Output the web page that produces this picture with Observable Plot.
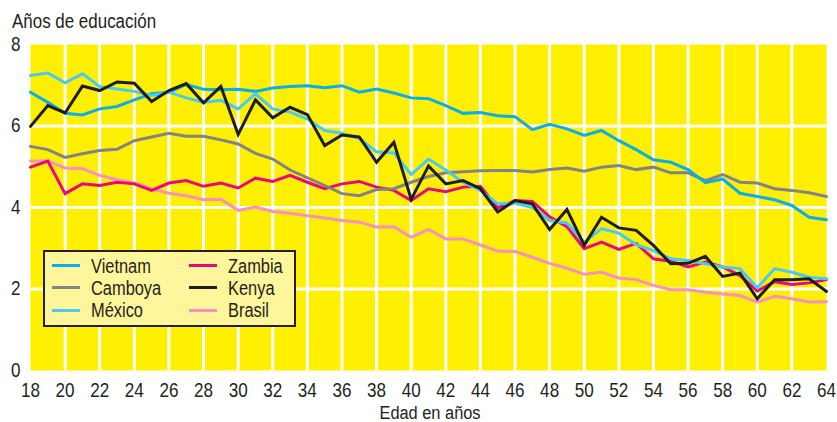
<!DOCTYPE html>
<html><head><meta charset="utf-8">
<script src="https://cdn.jsdelivr.net/npm/d3@7"></script>
<script src="https://cdn.jsdelivr.net/npm/@observablehq/plot@0.6"></script>
<style>
body{margin:0;background:#fff;}
#wrap{position:relative;width:837px;height:422px;font-family:"Liberation Sans",Arial,sans-serif;color:#231f20;}
#title{position:absolute;left:12px;top:11.4px;font-size:20px;line-height:20px;white-space:nowrap;transform:scaleX(0.847);transform-origin:0 0;}
#xlabel{position:absolute;left:279.5px;width:300px;top:403.8px;text-align:center;font-size:18px;line-height:18px;white-space:nowrap;transform:scaleX(0.91);transform-origin:50% 0;}
#legend{position:absolute;left:43px;top:250px;width:249px;height:73px;background:#fff59b;border:2px solid #231f20;}
.sw{position:absolute;width:28px;height:3px;}
.lt{position:absolute;font-size:20px;line-height:20px;white-space:nowrap;transform:scaleX(0.82);transform-origin:0 0;}
#chart{position:absolute;left:0;top:0;}
</style></head>
<body>
<div id="wrap">
  <div id="chart"></div>
  <div id="title">Años de educación</div>
  <div id="xlabel">Edad en años</div>
  <div id="legend"></div>
</div>
<script>
const ages = [18,19,20,21,22,23,24,25,26,27,28,29,30,31,32,33,34,35,36,37,38,39,40,41,42,43,44,45,46,47,48,49,50,51,52,53,54,55,56,57,58,59,60,61,62,63,64];
const vietnam = [6.83,6.58,6.31,6.27,6.42,6.48,6.64,6.79,6.83,7.02,6.9,6.89,6.9,6.85,6.93,6.97,6.99,6.94,6.99,6.83,6.91,6.81,6.69,6.67,6.5,6.31,6.33,6.25,6.23,5.91,6.04,5.93,5.77,5.89,5.64,5.42,5.17,5.11,4.93,4.61,4.7,4.35,4.27,4.19,4.05,3.76,3.7];
const camboya = [5.5,5.42,5.23,5.32,5.4,5.43,5.64,5.73,5.82,5.75,5.75,5.66,5.56,5.33,5.19,4.92,4.73,4.54,4.34,4.29,4.44,4.46,4.62,4.76,4.85,4.88,4.9,4.91,4.91,4.87,4.93,4.97,4.89,4.99,5.03,4.93,4.99,4.85,4.85,4.66,4.81,4.62,4.6,4.46,4.42,4.36,4.27];
const mexico = [7.24,7.3,7.06,7.28,6.97,6.91,6.85,6.75,6.83,6.69,6.58,6.63,6.42,6.79,6.42,6.34,6.17,5.89,5.82,5.69,5.37,5.34,4.81,5.19,4.92,4.62,4.42,4.09,4.11,4.0,3.68,3.62,3.15,3.48,3.37,3.09,2.94,2.74,2.7,2.62,2.54,2.5,2.03,2.5,2.41,2.29,2.25];
const zambia = [4.99,5.14,4.34,4.58,4.54,4.62,4.58,4.42,4.6,4.66,4.52,4.6,4.48,4.72,4.64,4.79,4.62,4.46,4.58,4.64,4.5,4.42,4.17,4.46,4.39,4.5,4.52,3.99,4.17,4.15,3.77,3.53,2.99,3.15,2.97,3.12,2.74,2.68,2.54,2.66,2.54,2.33,1.95,2.18,2.11,2.15,2.23];
const kenya = [5.99,6.5,6.32,6.98,6.87,7.08,7.05,6.6,6.87,7.04,6.57,6.97,5.79,6.64,6.2,6.46,6.28,5.52,5.78,5.73,5.11,5.6,4.2,5.02,4.58,4.66,4.46,3.89,4.17,4.09,3.46,3.95,3.07,3.76,3.5,3.44,3.07,2.62,2.63,2.8,2.31,2.39,1.76,2.23,2.23,2.25,1.94];
const brasil = [5.14,5.14,4.97,4.95,4.79,4.68,4.6,4.46,4.35,4.29,4.19,4.2,3.93,4.01,3.9,3.86,3.8,3.74,3.68,3.64,3.52,3.53,3.27,3.46,3.23,3.23,3.08,2.93,2.92,2.78,2.63,2.51,2.36,2.41,2.27,2.23,2.09,1.98,1.98,1.92,1.88,1.84,1.68,1.82,1.76,1.68,1.69];

const legendOrder = ["Vietnam","Camboya","México","Zambia","Kenya","Brasil"];
const drawOrder = ["Brasil","Zambia","Camboya","Vietnam","México","Kenya"];
const seriesValues = {"Vietnam":vietnam,"Camboya":camboya,"México":mexico,"Zambia":zambia,"Kenya":kenya,"Brasil":brasil};
const colors = {"Vietnam":"#0aaee8","Camboya":"#838383","México":"#4cc9f2","Zambia":"#e8087e","Kenya":"#1e1e1e","Brasil":"#f592be"};
const xTicks = [18,20,22,24,26,28,30,32,34,36,38,40,42,44,46,48,50,52,54,56,58,60,62,64];
const yTicks = [0,2,4,6,8];
const xGrid = [20,22,24,26,28,30,32,34,36,38,40,42,44,46,48,50,52,54,56,58,60,62];
const yGrid = [2,4,6];

const rows = drawOrder.flatMap(c => ages.map((a,i) => ({country:c, age:a, value:seriesValues[c][i]})));

const chart = Plot.plot({
  width: 837, height: 422,
  marginTop: 44, marginBottom: 52, marginLeft: 30, marginRight: 11,
  style: {fontFamily: '"Liberation Sans",Arial,sans-serif', fontSize: "20px", color: "#231f20", background: "transparent", overflow: "visible"},
  x: {domain: [18,64], ticks: xTicks, tickSize: 0, tickPadding: 12, label: null},
  y: {domain: [0,8], ticks: yTicks, tickSize: 0, tickPadding: 10, label: null},
  color: {domain: drawOrder, range: drawOrder.map(c => colors[c])},
  marks: [
    Plot.frame({fill: "#ffef00", stroke: null}),
    Plot.ruleX(xGrid, {stroke: "white", strokeWidth: 3}),
    Plot.ruleY(yGrid, {stroke: "white", strokeWidth: 3}),
    Plot.line(rows, {x: "age", y: "value", z: "country", stroke: "country", strokeWidth: 3, strokeLinejoin: "miter", strokeMiterlimit: 4})
  ]
});
// condense axis tick labels horizontally (narrow typeface look)
chart.querySelectorAll('g[aria-label$="tick label"] text').forEach(t => {
  const tr = t.getAttribute("transform") || "";
  t.setAttribute("transform", `${tr} scale(0.855,1)`);
});
document.getElementById("chart").appendChild(chart);

const leg = document.getElementById("legend");
legendOrder.forEach((c, i) => {
  const col = Math.floor(i / 3), row = i % 3;
  const sw = document.createElement("div");
  sw.className = "sw";
  sw.style.background = colors[c];
  sw.style.left = (col ? 144 : 7) + "px";
  sw.style.top = (11.5 + row * 22.5) + "px";
  leg.appendChild(sw);
  const t = document.createElement("div");
  t.className = "lt";
  t.textContent = c;
  t.style.left = (col ? 183 : 46) + "px";
  t.style.top = (4.1 + row * 22) + "px";
  leg.appendChild(t);
});
</script>
</body></html>
